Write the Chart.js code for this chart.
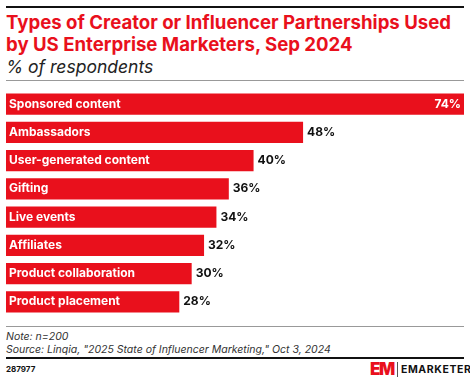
<!DOCTYPE html>
<html><head><meta charset="utf-8">
<script src="https://cdn.jsdelivr.net/npm/chart.js@4"></script>
<style>
html,body{margin:0;padding:0;background:#fff;}
body{width:470px;height:383px;position:relative;overflow:hidden;font-family:Inter,"Liberation Sans",sans-serif;}
.abs{position:absolute;}
#topline{left:6px;top:6px;width:458px;height:2px;background:#111;}
#title{left:6px;top:11px;width:450px;color:#e9101c;font-weight:700;font-size:18.6px;line-height:22px;letter-spacing:0px;}
#sub{left:6px;top:56px;color:#222;font-style:italic;font-size:17.5px;line-height:22px;}
#grayline1{left:6px;top:80px;width:458px;height:1px;background:#999;}
#grayline2{left:6px;top:326px;width:458px;height:1px;background:#999;}
#notes{left:6px;top:331px;color:#333;font-style:italic;font-size:10.5px;line-height:12.5px;}
#blackline{left:6px;top:357px;width:458px;height:2px;background:#111;}
#id{left:6px;top:364px;font-weight:700;font-size:8px;color:#111;}
#em{left:370px;top:360px;color:#e9101c;font-weight:900;font-size:17px;letter-spacing:-1.5px;line-height:18px;}
#sep{left:397px;top:362px;width:1px;height:15px;background:#555;}
#emk{left:401px;top:364px;font-weight:700;font-size:10.5px;letter-spacing:0.6px;color:#111;line-height:12px;}
#wrap{left:0;top:90px;width:470px;height:226px;}
</style></head>
<body>
<div class="abs" id="topline"></div>
<div class="abs" id="title">Types of Creator or Influencer Partnerships Used by US Enterprise Marketers, Sep 2024</div>
<div class="abs" id="sub">% of respondents</div>
<div class="abs" id="grayline1"></div>
<div class="abs" id="wrap"><canvas id="c"></canvas></div>
<div class="abs" id="grayline2"></div>
<div class="abs" id="notes">Note: n=200<br>Source: Linqia, "2025 State of Influencer Marketing," Oct 3, 2024</div>
<div class="abs" id="blackline"></div>
<div class="abs" id="id">287977</div>
<div class="abs" id="em">EM</div>
<div class="abs" id="sep"></div>
<div class="abs" id="emk">EMARKETER</div>
<script>
const categories = ["Sponsored content","Ambassadors","User-generated content","Gifting","Live events","Affiliates","Product collaboration","Product placement"];
const values = [74,48,40,36,34,32,30,28];
const valueLabels = ["74%","48%","40%","36%","34%","32%","30%","28%"];

const labelPlugin = {
  id:'barLabels',
  afterDatasetsDraw(chart){
    const ctx = chart.ctx;
    const meta = chart.getDatasetMeta(0);
    const right = chart.chartArea.right;
    ctx.save();
    ctx.textBaseline='middle';
    meta.data.forEach((bar,i)=>{
      const left = bar.base;
      ctx.font = '700 12px Inter, "Liberation Sans", sans-serif';
      ctx.fillStyle = '#fff';
      ctx.textAlign='left';
      ctx.fillText(categories[i], left+3, bar.y);
      const vw = ctx.measureText(valueLabels[i]).width;
      if (bar.x + 5 + vw > right) {
        ctx.fillStyle='#fff';
        ctx.textAlign='right';
        ctx.fillText(valueLabels[i], bar.x-3, bar.y);
      } else {
        ctx.fillStyle='#111';
        ctx.textAlign='left';
        ctx.fillText(valueLabels[i], bar.x+4, bar.y);
      }
    });
    ctx.restore();
  }
};

new Chart(document.getElementById('c'),{
  type:'bar',
  data:{labels:categories,datasets:[{data:values,backgroundColor:'#e9101c',borderWidth:0,categoryPercentage:0.75,barPercentage:1}]},
  options:{
    indexAxis:'y',responsive:true,maintainAspectRatio:false,animation:false,
    layout:{padding:{left:6,right:6,top:0,bottom:0}},
    plugins:{legend:{display:false},tooltip:{enabled:false}},
    scales:{x:{display:false,min:0,max:74},y:{display:false}}
  },
  plugins:[labelPlugin]
});
</script>
</body></html>
